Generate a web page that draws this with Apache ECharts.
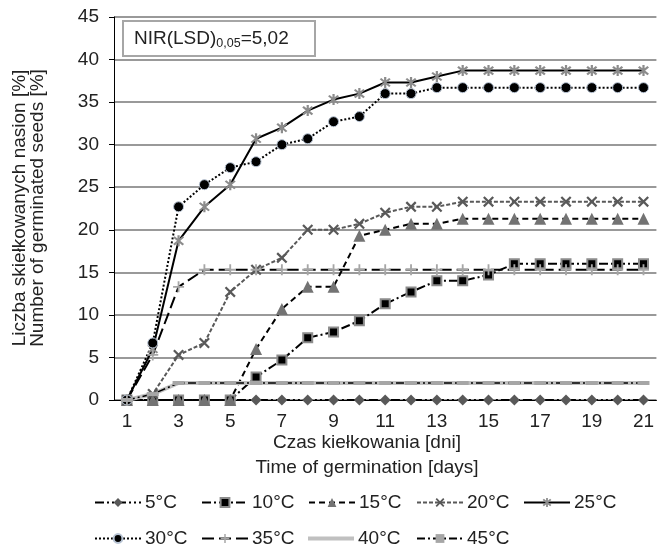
<!DOCTYPE html>
<html>
<head>
<meta charset="utf-8">
<script src="https://cdn.jsdelivr.net/npm/echarts@6/dist/echarts.min.js"></script>
<style>
html,body{margin:0;padding:0;background:#fff;}
#chart{width:657px;height:547px;}
</style>
</head>
<body>
<div id="chart"></div>
<script>
// ---- data ----
var days = ['1','2','3','4','5','6','7','8','9','10','11','12','13','14','15','16','17','18','19','20','21'];
var yTicks = [0,5,10,15,20,25,30,35,40,45];
var seriesNames = ['5°C','10°C','15°C','20°C','25°C','30°C','35°C','40°C','45°C'];
var t5  = [0,0,0,0,0,0,0,0,0,0,0,0,0,0,0,0,0,0,0,0,0];
var t10 = [0,0,0,0,0,2.7,4.7,7.3,8,9.3,11.3,12.7,14,14,14.7,16,16,16,16,16,16];
var t15 = [0,0,0,0,0,6,10.7,13.3,13.3,19.3,20,20.7,20.7,21.3,21.3,21.3,21.3,21.3,21.3,21.3,21.3];
var t20 = [0,0.7,5.3,6.7,12.7,15.3,16.7,20,20,20.7,22,22.7,22.7,23.3,23.3,23.3,23.3,23.3,23.3,23.3,23.3];
var t25 = [0,6,18.7,22.7,25.3,30.7,32,34,35.3,36,37.3,37.3,38,38.7,38.7,38.7,38.7,38.7,38.7,38.7,38.7];
var t30 = [0,6.7,22.7,25.3,27.3,28,30,30.7,32.7,33.3,36,36,36.7,36.7,36.7,36.7,36.7,36.7,36.7,36.7,36.7];
var t35 = [0,5.3,13.3,15.3,15.3,15.3,15.3,15.3,15.3,15.3,15.3,15.3,15.3,15.3,15.3,15.3,15.3,15.3,15.3,15.3,15.3];
var t40 = [0,0.7,2,2,2,2,2,2,2,2,2,2,2,2,2,2,2,2,2,2,2];
var t45 = [0,0.7,2,2,2,2,2,2,2,2,2,2,2,2,2,2,2,2,2,2,2];
var lsdLabel = ['NIR(LSD)', '0,05', '=5,02'];
var xTitle = ['Czas kiełkowania [dni]', 'Time of germination [days]'];
var yTitle = ['Liczba skiełkowanych nasion [%]', 'Number of germinated seeds [%]'];

// ---- styles ----
var FONT = "'Liberation Sans', Arial, sans-serif";
var FS = 19;
var TXT = '#222';
var P_X = 'path://M-3.53,-4.95L4.95,3.53L3.53,4.95L-4.95,-3.53Z M-4.95,3.53L3.53,-4.95L4.95,-3.53L-3.53,4.95Z';
var P_PLUS = 'path://M-1,-6L1,-6L1,6L-1,6Z M-6,-1L6,-1L6,1L-6,1Z';
var P_AST = 'path://M-1,-6L1,-6L1,6L-1,6Z M-3.53,-4.95L4.95,3.53L3.53,4.95L-4.95,-3.53Z M-4.95,3.53L3.53,-4.95L4.95,-3.53L-3.53,4.95Z';

function mk(name, data, opt) {
  return {
    name: name, type: 'line', data: data, z: opt.z || 2,
    symbol: opt.symbol, symbolSize: opt.size,
    showSymbol: opt.symbol !== 'none',
    itemStyle: { color: opt.fill, borderColor: opt.border || opt.fill, borderWidth: opt.bw || 0 },
    lineStyle: { color: opt.line, width: opt.lw, type: opt.dash },
    emphasis: { disabled: true }
  };
}

var series = [
  mk(seriesNames[0], t5,  {symbol:'diamond', size:11, fill:'#595959', line:'#000', lw:2, dash:[9,3,2,3,2,3]}),
  mk(seriesNames[1], t10, {symbol:'rect', size:9, fill:'#000', border:'#8c8c8c', bw:2, line:'#000', lw:2, dash:[9,3,2,3]}),
  mk(seriesNames[2], t15, {symbol:'triangle', size:12, fill:'#737373', line:'#000', lw:2, dash:[6,4]}),
  mk(seriesNames[3], t20, {symbol:P_X, size:11, fill:'#595959', line:'#595959', lw:2, dash:[4,2]}),
  mk(seriesNames[4], t25, {symbol:P_AST, size:11, fill:'#8c8c8c', line:'#000', lw:2, dash:'solid'}),
  mk(seriesNames[5], t30, {symbol:'circle', size:10, fill:'#000', border:'#b8c4d4', bw:1, line:'#000', lw:2, dash:[2,2]}),
  mk(seriesNames[6], t35, {symbol:P_PLUS, size:11, fill:'#a6a6a6', line:'#000', lw:2, dash:[12,5]}),
  mk(seriesNames[7], t40, {symbol:'none', size:0, fill:'#c0c0c0', line:'#c0c0c0', lw:4, dash:'solid'}),
  mk(seriesNames[8], t45, {symbol:'rect', size:[12,4], fill:'#a6a6a6', line:'#000', lw:1.5, dash:[8,3,2,3], z:3})
];

var legendPos = [[94,493],[201,493],[308,493],[416,493],[523,493],[94,529],[201,529],[308,529],[416,529]];
var legends = seriesNames.map(function(n, i){
  var lg = {
    data: [n], left: legendPos[i][0], top: legendPos[i][1], orient: 'horizontal',
    itemWidth: 46, itemHeight: 11, itemGap: 0, padding: 0, selectedMode: false,
    textStyle: { fontFamily: FONT, fontSize: FS, color: TXT, padding: [0,0,0,-1] }
  };
  if (i === 7) {
    lg.data = [{ name: n, icon: 'rect', itemStyle: { color: '#c0c0c0' } }];
    lg.itemHeight = 4;
  }
  return lg;
});

var chart = echarts.init(document.getElementById('chart'), null, {renderer:'canvas'});
chart.setOption({
  animation: false,
  backgroundColor: '#fff',
  grid: { left: 114, right: -2, top: 17, bottom: 147, containLabel: false },
  xAxis: {
    type: 'category', data: days, boundaryGap: true,
    axisLine: { show: true, lineStyle: { color: '#000', width: 1 } },
    axisTick: { show: false },
    axisLabel: { interval: 1, fontFamily: FONT, fontSize: FS, color: TXT, margin: 12 },
    splitLine: { show: false }
  },
  yAxis: {
    type: 'value', min: yTicks[0], max: yTicks[yTicks.length-1], interval: 5,
    axisLine: { show: true, lineStyle: { color: '#000', width: 1 } },
    axisTick: { show: true, inside: false, length: 5, lineStyle: { color: '#000' } },
    axisLabel: { fontFamily: FONT, fontSize: FS, color: TXT, margin: 15 },
    splitLine: { show: true, lineStyle: { color: '#999', width: 2 } }
  },
  legend: legends,
  series: series,
  graphic: [
    { type: 'rect', left: 122, top: 20, shape: { width: 192, height: 35 }, style: { fill: '#fff', stroke: '#a6a6a6', lineWidth: 2 }, z: 10 },
    { type: 'text', left: 134, top: 27, z: 11,
      style: { text: '{n|' + lsdLabel[0] + '}{s|' + lsdLabel[1] + '}{n|' + lsdLabel[2] + '}',
        rich: { n: { fontFamily: FONT, fontSize: FS, fill: TXT, lineHeight: 22 },
                s: { fontFamily: FONT, fontSize: 12.5, fill: TXT, lineHeight: 22, padding: [10,0,0,0] } } } },
    { type: 'text', x: 367, y: 443, z: 11, style: { text: xTitle[0], fontFamily: FONT, fontSize: FS, fill: TXT, align: 'center', verticalAlign: 'middle' } },
    { type: 'text', x: 367, y: 468, z: 11, style: { text: xTitle[1], fontFamily: FONT, fontSize: FS, fill: TXT, align: 'center', verticalAlign: 'middle' } },
    { type: 'text', x: 20, y: 208, rotation: Math.PI/2, z: 11, style: { text: yTitle[0], fontFamily: FONT, fontSize: FS, fill: TXT, align: 'center', verticalAlign: 'middle' } },
    { type: 'text', x: 38, y: 208, rotation: Math.PI/2, z: 11, style: { text: yTitle[1], fontFamily: FONT, fontSize: FS, fill: TXT, align: 'center', verticalAlign: 'middle' } }
  ]
});
</script>
</body>
</html>
